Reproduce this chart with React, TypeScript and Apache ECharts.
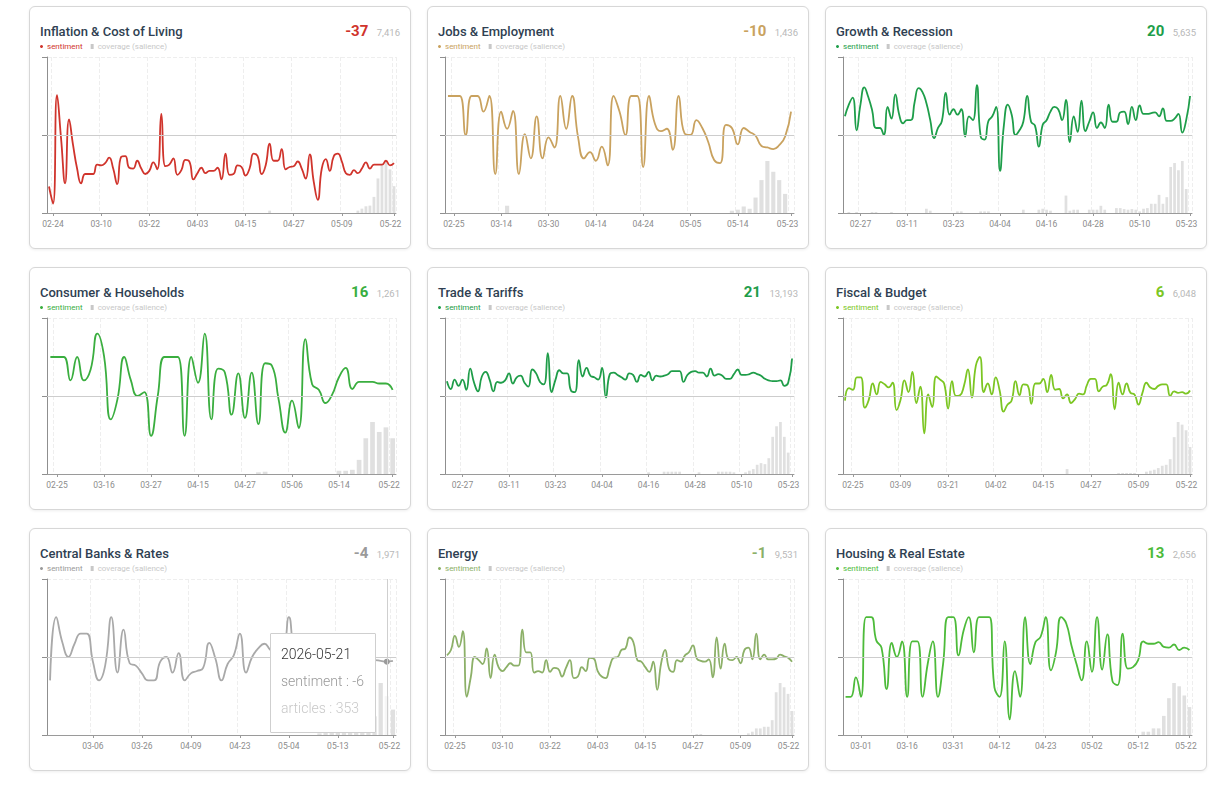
import React, { useEffect, useRef } from "react";
import * as echarts from "echarts";

const FONT = "Roboto, 'Noto Sans', 'DejaVu Sans', sans-serif";

// ---------- Inflation & Cost of Living ----------
const inflationTicks: [number, string][] = [[1, "2026-02-24"], [13, "2026-03-10"], [25, "2026-03-22"], [37, "2026-04-03"], [49, "2026-04-15"], [61, "2026-04-27"], [73, "2026-05-09"], [86, "2026-05-22"]];
const inflationSentiment = [-66, -88, 51, -4, -62, 20, -13, -43, -62, -50, -50, -50, -38, -39, -36, -29, -43, -63, -28, -27, -42, -43, -33, -43, -50, -46, -35, -44, 27, -40, -38, -30, -51, -45, -32, -34, -57, -49, -42, -49, -46, -46, -42, -57, -24, -51, -50, -39, -41, -52, -43, -24, -27, -50, -39, -11, -33, -33, -18, -44, -41, -40, -34, -43, -56, -25, -60, -83, -43, -31, -46, -27, -24, -34, -49, -51, -45, -49, -43, -35, -43, -38, -38, -38, -33, -39, -36];
const inflationCoverage: [number, number][] = [[55, 70], [77, 70], [78, 130], [79, 200], [80, 220], [81, 480], [82, 1030], [83, 1450], [84, 1550], [85, 1300], [86, 800]];

// ---------- Jobs & Employment ----------
const jobsTicks: [number, string][] = [[1, "2026-02-25"], [9, "2026-03-14"], [17, "2026-03-30"], [25, "2026-04-14"], [33, "2026-04-24"], [41, "2026-05-05"], [49, "2026-05-14"], [58, "2026-05-23"]];
const jobsSentiment = [50, 50, 50, 0, 50, 50, 30, 50, -50, 30, 8, 31, -50, 1, -30, 24, -30, -3, -16, 50, 8, 50, -3, -30, -22, -33, -15, -39, 50, 30, 0, 50, 50, -41, 50, 14, 5, 8, -19, 50, 2, 0, 19, 9, -9, -32, -36, 13, 9, -12, 9, 4, -1, -14, -16, -18, -13, -2, 30];
const jobsCoverage: [number, number][] = [[10, 48], [48, 15], [49, 22], [50, 43], [51, 28], [52, 102], [53, 217], [54, 343], [55, 272], [56, 217], [57, 126]];

// ---------- Growth & Recession ----------
const growthTicks: [number, string][] = [[4, "2026-02-27"], [16, "2026-03-11"], [28, "2026-03-23"], [40, "2026-04-04"], [52, "2026-04-16"], [64, "2026-04-28"], [76, "2026-05-10"], [89, "2026-05-23"]];
const growthSentiment = [24, 39, 48, 6, 39, 61, 49, 32, 9, 9, 0, 36, 21, 52, 26, 15, 19, 19, 43, 60, 55, 41, 19, -4, 9, 18, 54, 26, 33, 26, 33, -2, 24, 19, 64, -2, -6, 18, 24, 36, -46, 13, 39, 26, 0, 6, 17, 50, 17, 12, -15, 13, 19, 30, 36, 33, 19, 45, -9, 24, 4, 44, 5, 17, 29, 9, 16, 9, 39, 17, 17, 29, 30, 14, 36, 19, 38, 27, 27, 28, 29, 24, 34, 18, 18, 21, 27, 3, 19, 50];
const growthCoverage: [number, number][] = [[1, 14], [3, 14], [7, 14], [8, 14], [12, 14], [21, 61], [22, 33], [29, 23], [30, 23], [35, 23], [36, 23], [37, 23], [46, 47], [50, 47], [51, 61], [52, 47], [53, 33], [57, 249], [58, 33], [59, 47], [60, 47], [63, 47], [64, 47], [65, 47], [66, 103], [67, 47], [70, 70], [71, 70], [72, 56], [73, 47], [74, 56], [75, 47], [76, 23], [77, 61], [78, 70], [79, 132], [80, 132], [81, 259], [82, 132], [83, 226], [84, 658], [85, 714], [86, 611], [87, 743], [88, 343]];

// ---------- Consumer & Households ----------
const consumerTicks: [number, string][] = [[1, "2026-02-25"], [8, "2026-03-16"], [15, "2026-03-27"], [22, "2026-04-15"], [29, "2026-04-27"], [36, "2026-05-06"], [43, "2026-05-14"], [51, "2026-05-22"]];
const consumerSentiment = [50, 50, 50, 20, 50, 20, 34, 80, 51, -30, -4, 50, 20, 0, 5, -51, 0, 50, 50, 50, -51, 50, 17, 80, -30, 35, 30, -24, 29, -28, 30, -36, 42, 39, -4, -47, -6, -41, 73, 15, 8, -9, 2, 24, 36, 9, 18, 18, 18, 16, 16, 8];
const consumerCoverage: [number, number][] = [[31, 9], [32, 12], [43, 17], [44, 17], [45, 22], [46, 74], [47, 187], [48, 272], [49, 220], [50, 244], [51, 187]];

// ---------- Trade & Tariffs ----------
const tradeTicks: [number, string][] = [[4, "2026-02-27"], [16, "2026-03-11"], [28, "2026-03-23"], [40, "2026-04-04"], [52, "2026-04-16"], [64, "2026-04-28"], [76, "2026-05-10"], [89, "2026-05-23"]];
const tradeSentiment = [19, 9, 21, 13, 21, 8, 35, 17, 6, 25, 31, 21, 6, 18, 17, 20, 29, 16, 24, 26, 17, 12, 34, 29, 18, 15, 55, 5, 21, 33, 29, 29, 7, 5, 46, 25, 36, 26, 24, 21, 36, -2, 28, 30, 27, 24, 21, 29, 27, 18, 27, 25, 31, 20, 26, 25, 26, 28, 32, 32, 32, 18, 27, 31, 32, 30, 30, 25, 35, 26, 28, 26, 22, 22, 28, 34, 27, 27, 28, 30, 28, 26, 22, 20, 19, 19, 20, 13, 17, 48];
const tradeCoverage: [number, number][] = [[52, 80], [56, 110], [57, 110], [58, 110], [59, 110], [60, 110], [65, 80], [70, 110], [71, 110], [72, 110], [73, 110], [74, 80], [77, 80], [78, 157], [79, 235], [80, 440], [81, 518], [82, 471], [83, 754], [84, 1774], [85, 2277], [86, 2481], [87, 1774], [88, 1020]];

// ---------- Fiscal & Budget ----------
const fiscalTicks: [number, string][] = [[2, "2026-02-25"], [14, "2026-03-09"], [26, "2026-03-21"], [38, "2026-04-02"], [50, "2026-04-15"], [62, "2026-04-27"], [74, "2026-05-09"], [87, "2026-05-22"]];
const fiscalSentiment = [-6, 10, 8, 24, 24, -15, -5, 16, 2, 18, 15, 11, 17, -18, -5, 20, 5, 31, -9, 12, -48, 2, -14, 25, 21, 16, -16, 19, 0, 1, 13, 34, -2, 39, 50, 5, 16, 2, 24, 7, -20, -11, -6, 19, 1, 15, 14, -10, 16, 16, 22, 5, 27, 8, 9, -3, 2, -9, -4, 3, 2, 14, 22, 22, 6, 12, 14, 28, -17, 17, 2, 16, 4, 2, -11, 4, 17, 11, 9, 13, 15, 15, 0, 6, 4, 5, 3, 7];
const fiscalCoverage: [number, number][] = [[56, 112], [69, 22], [70, 22], [71, 22], [72, 22], [73, 22], [76, 52], [77, 75], [78, 97], [79, 134], [80, 187], [81, 209], [82, 336], [83, 836], [84, 1179], [85, 1119], [86, 992], [87, 612]];

// ---------- Central Banks & Rates ----------
const cbTicks: [number, string][] = [[7, "2026-03-06"], [15, "2026-03-26"], [23, "2026-04-09"], [31, "2026-04-23"], [39, "2026-05-04"], [47, "2026-05-13"], [56, "2026-05-22"]];
const cbSentiment = [-30, 51, 19, 0, 17, 30, 30, -6, -30, -11, 51, -20, 35, -8, -11, -21, -30, -30, -6, 0, -20, 5, -30, -21, -18, -14, 18, -2, -30, -9, 2, 30, -20, 0, 11, 17, 9, 3, 5, 51, 0, -10, 5, -15, 0, 10, -5, -20, -8, 0, -5, -3, -6, -4, -5, -6, -5];
const cbCoverage: [number, number][] = [[44, 15], [45, 20], [46, 30], [47, 60], [48, 90], [49, 110], [50, 120], [51, 140], [52, 150], [53, 170], [54, 473], [55, 353], [56, 231]];

// ---------- Energy ----------
const energyTicks: [number, string][] = [[2, "2026-02-25"], [14, "2026-03-10"], [26, "2026-03-22"], [38, "2026-04-03"], [50, "2026-04-15"], [62, "2026-04-27"], [74, "2026-05-09"], [87, "2026-05-22"]];
const energySentiment = [2, 9, 27, 13, 33, -51, -26, 0, -4, -9, 11, -27, 3, -13, -18, -13, -8, -11, -11, 35, 6, 6, -20, -18, -20, -4, -19, -14, -15, -25, -14, -4, -27, -25, -13, -18, -1, -2, -18, -25, -27, -13, -1, 0, 9, 11, 25, 19, -4, -6, -13, -19, -6, -42, -8, 9, -15, -19, -4, -6, 2, 6, 15, -2, -5, -6, -3, -26, 25, -15, 17, -3, -4, 0, -8, 9, 12, -3, 30, -3, 3, -3, -3, -2, 3, 1, -1, -6];
const energyCoverage: [number, number][] = [[63, 36], [64, 36], [76, 60], [77, 121], [78, 242], [79, 242], [80, 303], [81, 303], [82, 545], [83, 1573], [84, 1912], [85, 1755], [86, 1513], [87, 883]];

// ---------- Housing & Real Estate ----------
const housingTicks: [number, string][] = [[3, "2026-03-01"], [12, "2026-03-16"], [21, "2026-03-31"], [30, "2026-04-12"], [39, "2026-04-23"], [48, "2026-05-02"], [57, "2026-05-12"], [67, "2026-05-22"]];
const housingSentiment = [-51, -51, -26, -51, 51, 51, 21, 12, -41, 18, 0, 20, -51, 20, 20, -51, -9, 20, -51, -9, 51, 51, 2, 34, 51, 6, 51, 51, 51, -39, -51, 20, -80, -18, -51, 51, -9, 19, 26, 51, -17, 6, 51, 43, 15, -9, -30, 20, -19, 51, -16, 29, -31, -36, 30, -15, -13, -4, 20, 17, 17, 19, 13, 12, 16, 9, 12, 9];
const housingCoverage: [number, number][] = [[58, 36], [59, 36], [60, 72], [61, 72], [62, 208], [63, 401], [64, 566], [65, 530], [66, 430], [67, 304]];

const titles = ["Inflation & Cost of Living", "Jobs & Employment", "Growth & Recession", "Consumer & Households", "Trade & Tariffs", "Fiscal & Budget", "Central Banks & Rates", "Energy", "Housing & Real Estate"];
const scores = ["-37", "-10", "20", "16", "21", "6", "-4", "-1", "13"];
const counts = ["7,416", "1,436", "5,635", "1,261", "13,193", "6,048", "1,971", "9,531", "2,656"];
const colors = ["#d0342c", "#c9a25f", "#1e9e4a", "#3aae3f", "#1f9d49", "#7cc623", "#9a9a9a", "#8cb068", "#4dbb3a"];

type Panel = {
  title: string; score: string; count: string; color: string;
  ticks: [number, string][]; line: number[]; bars: [number, number][]; tip?: number;
};

const PANELS: Panel[] = [
  { ticks: inflationTicks, line: inflationSentiment, bars: inflationCoverage },
  { ticks: jobsTicks, line: jobsSentiment, bars: jobsCoverage },
  { ticks: growthTicks, line: growthSentiment, bars: growthCoverage },
  { ticks: consumerTicks, line: consumerSentiment, bars: consumerCoverage },
  { ticks: tradeTicks, line: tradeSentiment, bars: tradeCoverage },
  { ticks: fiscalTicks, line: fiscalSentiment, bars: fiscalCoverage },
  { ticks: cbTicks, line: cbSentiment, bars: cbCoverage, tip: 55 },
  { ticks: energyTicks, line: energySentiment, bars: energyCoverage },
  { ticks: housingTicks, line: housingSentiment, bars: housingCoverage },
].map((p, i) => ({ ...p, title: titles[i], score: scores[i], count: counts[i], color: colors[i] } as Panel));

const DAY = 86400000;
// category dates: the labelled dates sit at their indices, other days fill between them
function buildDates(ticks: [number, string][], n: number): string[] {
  const t = ticks.map(([i, d]) => [i, Date.parse(d + "T00:00:00Z")] as [number, number]);
  const out: string[] = [];
  for (let i = 0; i < n; i++) {
    let ms: number;
    if (i <= t[0][0]) ms = t[0][1] - (t[0][0] - i) * DAY;
    else {
      let k = 0;
      while (k < t.length - 1 && t[k + 1][0] < i) k++;
      if (k >= t.length - 1) ms = t[t.length - 1][1] + (i - t[t.length - 1][0]) * DAY;
      else {
        const [i1, d1] = t[k];
        const [i2, d2] = t[k + 1];
        const days = Math.round((d2 - d1) / DAY);
        ms = d1 + Math.round(((i - i1) * days) / (i2 - i1)) * DAY;
      }
    }
    out.push(new Date(ms).toISOString().slice(0, 10));
  }
  return out;
}

function textWidth(text: string, font: string): number {
  const ctx = document.createElement("canvas").getContext("2d");
  if (!ctx) return text.length * 5;
  ctx.font = font;
  return ctx.measureText(text).width;
}

function makeOption(p: Panel) {
  const n = p.line.length;
  const dates = buildDates(p.ticks, n);
  const tickSet = new Set(p.ticks.map((t) => t[0]));
  const show = (idx: number) => tickSet.has(idx);
  const barData = new Array(n).fill(0);
  p.bars.forEach(([i, v]) => { barData[i] = v; });
  const barMax = Math.max(...barData) * 3;
  const last = n - 1;
  const countW = textWidth(p.count, `400 9.5px ${FONT}`);
  const labelColor = "#8c8c8c";

  return {
    animation: false,
    textStyle: { fontFamily: FONT },
    grid: { left: 17, right: 14, top: 50, height: 156, containLabel: false, outerBoundsMode: "none" },
    legend: {
      left: 10, top: 35.5, padding: 0, itemWidth: 3, itemHeight: 5, itemGap: 8, selectedMode: false,
      textStyle: { fontSize: 8, fontFamily: FONT, padding: [0, 0, 0, -1] },
      data: [
        { name: "sentiment", icon: "circle", itemStyle: { color: p.color }, textStyle: { color: p.color } },
        { name: "coverage (salience)", icon: "rect", itemStyle: { color: "#c8c8c8" }, textStyle: { color: "#c8c8c8" } },
      ],
    },
    graphic: [
      { type: "text", x: 10, y: 24, silent: true, style: { text: p.title, fontSize: 13, fontWeight: 500, fontFamily: FONT, fill: "#2f3f52", align: "left", verticalAlign: "middle" } },
      { type: "text", x: 370 - countW - 8.5, y: 23.5, silent: true, style: { text: p.score, fontSize: 15, fontWeight: 700, fontFamily: FONT, fill: p.color, align: "right", verticalAlign: "middle" } },
      { type: "text", x: 370, y: 25, silent: true, style: { text: p.count, fontSize: 9.5, fontWeight: 400, fontFamily: FONT, fill: "#b8b8b8", align: "right", verticalAlign: "middle" } },
    ],
    tooltip: {
      trigger: "axis",
      alwaysShowContent: true,
      transitionDuration: 0,
      position: [240, 104],
      backgroundColor: "#fff",
      borderColor: "#cfcfcf",
      borderWidth: 1,
      padding: [7, 11, 10, 10],
      extraCssText: "box-shadow:none;border-radius:1px;",
      axisPointer: { type: "line", lineStyle: { color: "#cfcfcf", width: 1, type: "solid" } },
      formatter: (params: any) => {
        const arr = Array.isArray(params) ? params : [params];
        const s = arr.find((q: any) => q.seriesName === "sentiment");
        const b = arr.find((q: any) => q.seriesName === "coverage (salience)");
        const date = arr[0] ? arr[0].axisValue : "";
        return (
          `<div style="font-family:${FONT};font-size:14px;line-height:27px;font-weight:300;">` +
          `<div style="color:#333">${date}</div>` +
          `<div style="color:#999">sentiment : ${s ? s.value : ""}</div>` +
          `<div style="color:#c8c8c8">articles : ${b ? b.value : ""}</div></div>`
        );
      },
    },
    xAxis: {
      type: "category",
      data: dates,
      boundaryGap: true,
      axisLine: { onZero: false, lineStyle: { color: "#9a9a9a", width: 1 } },
      axisTick: { show: true, alignWithLabel: true, interval: show, length: 3, lineStyle: { color: "#9a9a9a" } },
      axisLabel: {
        interval: show,
        fontSize: 8.5,
        fontFamily: FONT,
        color: labelColor,
        margin: 6,
        formatter: (v: string, i: number) => (i === last ? `{e|${v.slice(5)}}` : v.slice(5)),
        rich: { e: { fontSize: 8.5, fontFamily: FONT, color: labelColor, padding: [0, 7, 0, 0] } },
      },
      splitLine: { show: true, interval: show, lineStyle: { color: "#eeeeee", type: "dashed", width: 1 } },
    },
    yAxis: [
      {
        type: "value", min: -100, max: 100, interval: 100,
        axisLine: { show: true, lineStyle: { color: "#8f8f8f", width: 1 } },
        axisTick: { show: true, length: 5, lineStyle: { color: "#8f8f8f" } },
        axisLabel: { show: false },
        splitLine: { show: true, lineStyle: { color: "#eeeeee", type: "dashed", width: 1 } },
      },
      { type: "value", min: 0, max: barMax, show: false, splitLine: { show: false } },
    ],
    series: [
      {
        name: "coverage (salience)", type: "bar", yAxisIndex: 1, data: barData, barWidth: "70%",
        itemStyle: { color: "#e0e0e0" }, silent: true,
      },
      {
        name: "sentiment", type: "line", yAxisIndex: 0, data: p.line, smooth: true, showSymbol: false,
        symbol: "circle", symbolSize: 5, lineStyle: { color: p.color, width: 1.8 }, itemStyle: { color: p.color },
        markLine: {
          silent: true, symbol: ["none", "none"], label: { show: false },
          lineStyle: { color: "#cdcdcd", type: "solid", width: 1 },
          data: [{ yAxis: 0 }],
        },
      },
    ],
  };
}

function Card({ p, left, top }: { p: Panel; left: number; top: number }) {
  const ref = useRef<HTMLDivElement>(null);
  useEffect(() => {
    const el = ref.current;
    if (!el) return;
    const chart = echarts.init(el, null, { renderer: "svg" });
    chart.setOption(makeOption(p) as any);
    if (p.tip != null) {
      chart.dispatchAction({ type: "showTip", seriesIndex: 1, dataIndex: p.tip });
    }
    return () => chart.dispose();
  }, [p]);
  return (
    <div
      style={{
        position: "absolute", left, top, width: 382, height: 243, boxSizing: "border-box",
        border: "1px solid #d7d7d7", borderRadius: 6, background: "#fff",
        boxShadow: "0 1px 3px rgba(0,0,0,0.07)",
      }}
    >
      <div ref={ref} style={{ width: 380, height: 241 }} />
    </div>
  );
}

const COL_LEFT = [29, 427, 825];
const ROW_TOP = [6, 267, 528];

export default function App() {
  return (
    <div style={{ position: "fixed", left: 0, top: 0, width: 1228, height: 791, background: "#fff", overflow: "hidden" }}>
      {PANELS.map((p, i) => (
        <Card key={i} p={p} left={COL_LEFT[i % 3]} top={ROW_TOP[Math.floor(i / 3)]} />
      ))}
    </div>
  );
}
